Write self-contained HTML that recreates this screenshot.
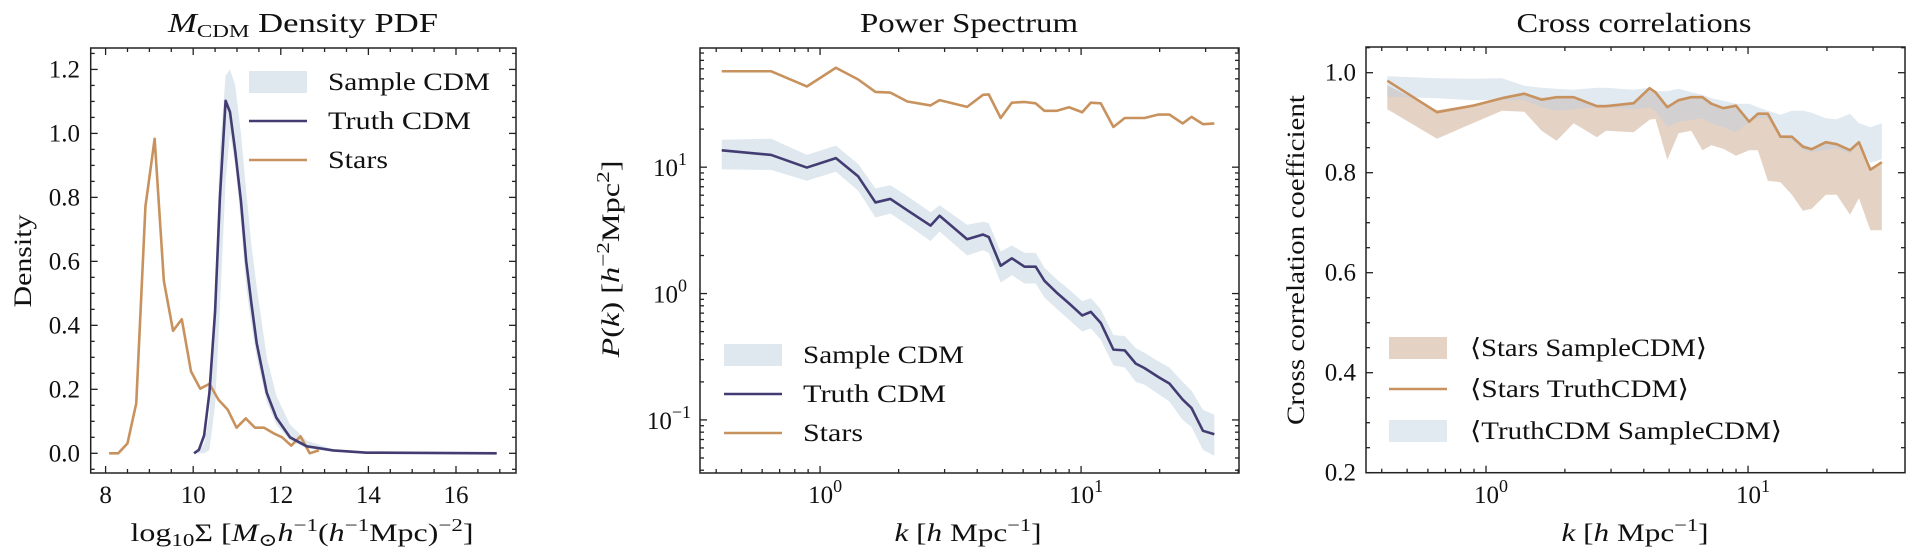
<!DOCTYPE html>
<html><head><meta charset="utf-8"><style>
html,body{margin:0;padding:0;background:#fff;}
svg{display:block;font-family:"Liberation Serif","DejaVu Serif",serif;}
</style></head><body>
<svg id="fig" width="1915" height="560" viewBox="0 0 1915 560" xmlns="http://www.w3.org/2000/svg"></svg>
<script>
// ---------- Panel 1 data: density PDF ----------
const starsPdfX = [8.08,8.29,8.50,8.70,8.91,9.12,9.33,9.54,9.74,9.95,10.16,10.37,10.58,10.79,10.99,11.20,11.41,11.62,11.83,12.03,12.24,12.45,12.66,12.87];
const starsPdfY = [0,0,0.031,0.156,0.772,0.983,0.539,0.383,0.419,0.256,0.202,0.217,0.167,0.136,0.080,0.109,0.080,0.080,0.063,0.050,0.024,0.053,0,0.009];
const truthPdfX = [10.02,10.13,10.25,10.37,10.50,10.61,10.74,10.84,10.96,11.09,11.21,11.33,11.45,11.68,11.90,12.21,12.59,13.20,13.96,16.93];
const truthPdfY = [0,0.011,0.056,0.189,0.444,0.80,1.102,1.067,0.944,0.789,0.60,0.467,0.344,0.189,0.111,0.05,0.022,0.009,0.002,0];
const samplePdfLo = [0,0,0,0.01,0.15,0.45,0.85,1.0,0.9,0.72,0.52,0.4,0.3,0.16,0.09,0.04,0.015,0.004,0.001,0];
const samplePdfHi = [0,0.01,0.03,0.12,0.5,0.95,1.18,1.20,1.15,1.0,0.82,0.65,0.52,0.3,0.18,0.09,0.04,0.012,0.003,0];
const pdfXTicks = [8,10,12,14,16];
const pdfYTicks = [0,0.2,0.4,0.6,0.8,1.0,1.2];
// ---------- Panel 2 data: power spectrum ----------
const kVals = [0.42,0.65,0.89,1.15,1.40,1.63,1.86,2.16,2.65,2.87,3.66,4.21,4.43,4.92,5.43,6.07,6.70,7.24,8.05,8.99,10.1,10.9,11.9,13.3,14.7,16.2,17.5,19.8,21.8,24.5,26.5,29.3,32.4];
const pkStars = [57.4,57.4,43.5,61.2,49.4,39.4,38.9,33.1,30.8,33.9,30.0,37.4,37.6,24.5,32.4,32.8,32.0,27.9,27.9,29.8,27.2,32.4,32.0,20.8,24.5,24.5,24.5,26.1,26.1,22.2,25.0,21.9,22.2];
const pkTruth = [13.6,12.5,9.93,11.8,8.45,5.26,5.61,4.56,3.45,4.13,2.69,2.93,2.80,1.66,1.90,1.63,1.63,1.26,1.02,0.836,0.671,0.716,0.585,0.36,0.355,0.279,0.257,0.218,0.194,0.145,0.124,0.082,0.077];
const pkSampleHi = [16.5,16.8,12.5,14.8,10.6,6.8,7.2,5.9,4.4,5.0,3.5,3.7,3.6,2.15,2.4,2.1,2.1,1.6,1.3,1.08,0.87,0.92,0.75,0.47,0.46,0.37,0.34,0.29,0.26,0.2,0.17,0.12,0.11];
const pkSampleLo = [9.6,9.5,7.8,9.2,6.5,4.0,4.3,3.5,2.6,3.1,2.0,2.2,2.1,1.22,1.4,1.2,1.2,0.93,0.76,0.62,0.5,0.53,0.43,0.27,0.26,0.2,0.19,0.16,0.14,0.1,0.088,0.058,0.052];
// ---------- Panel 3 data: cross correlations ----------
const ccStarsTruth = [0.984,0.921,0.934,0.949,0.958,0.946,0.951,0.951,0.933,0.933,0.939,0.969,0.961,0.931,0.945,0.951,0.951,0.938,0.929,0.934,0.902,0.918,0.918,0.872,0.872,0.852,0.847,0.861,0.857,0.845,0.861,0.806,0.821];
const ccStarsSampleHi = [0.975,0.925,0.936,0.951,0.96,0.95,0.952,0.952,0.936,0.936,0.94,0.965,0.96,0.935,0.945,0.95,0.95,0.94,0.932,0.935,0.905,0.918,0.918,0.875,0.874,0.856,0.85,0.862,0.858,0.848,0.86,0.81,0.82];
const ccStarsSampleLo = [0.927,0.868,0.899,0.924,0.922,0.884,0.864,0.899,0.871,0.884,0.881,0.906,0.908,0.826,0.879,0.884,0.845,0.855,0.848,0.834,0.845,0.845,0.784,0.781,0.756,0.724,0.728,0.756,0.756,0.716,0.749,0.685,0.685];
const ccTruthSampleHi = [0.993,0.989,0.988,0.989,0.974,0.97,0.968,0.966,0.97,0.97,0.966,0.97,0.963,0.963,0.968,0.961,0.956,0.949,0.944,0.938,0.938,0.931,0.924,0.916,0.924,0.924,0.92,0.909,0.907,0.918,0.899,0.891,0.899];
const ccTruthSampleLo = [0.952,0.949,0.945,0.946,0.945,0.931,0.924,0.927,0.931,0.931,0.927,0.931,0.924,0.891,0.902,0.906,0.909,0.899,0.891,0.881,0.902,0.909,0.909,0.87,0.866,0.845,0.841,0.845,0.849,0.838,0.859,0.82,0.827];
const ccYTicks = [0.2,0.4,0.6,0.8,1.0];

const NS = "http://www.w3.org/2000/svg";
const svg = document.getElementById('fig');
const NAVY = "#433c72", ORANGE = "#c8925e";
const FS = 25;
function el(tag, attrs, parent){
  const e = document.createElementNS(NS, tag);
  for (const k in attrs) e.setAttribute(k, attrs[k]);
  (parent||svg).appendChild(e);
  return e;
}
function mkScale(p){
  return {
    x: v => { const t = p.xlog ? Math.log10(v) : v; return p.L + (t - p.x0)/(p.x1 - p.x0)*(p.R - p.L); },
    y: v => { const t = p.ylog ? Math.log10(v) : v; return p.B - (t - p.y0)/(p.y1 - p.y0)*(p.B - p.T); }
  };
}
function linePts(S, xs, ys){ return xs.map((x,i)=>S.x(x).toFixed(2)+','+S.y(ys[i]).toFixed(2)).join(' '); }
function bandPts(S, xs, lo, hi){
  const a = xs.map((x,i)=>S.x(x).toFixed(2)+','+S.y(hi[i]).toFixed(2));
  const b = xs.map((x,i)=>S.x(x).toFixed(2)+','+S.y(lo[i]).toFixed(2)).reverse();
  return a.concat(b).join(' ');
}
function tick(g, x1,y1,x2,y2){ el('line',{x1:x1,y1:y1,x2:x2,y2:y2,stroke:'#222','stroke-width':1.3},g); }
function drawTicks(p, S, g){
  const maj=7, mn=4;
  let xt=[];
  if (p.xlog){
    for (let d=-2; d<3; d++) for (let m=1; m<10; m++){ const v=m*Math.pow(10,d); const t=Math.log10(v); if (t>=p.x0 && t<=p.x1) xt.push([v, m===1]); }
  } else {
    for (let v=Math.ceil(p.x0/p.xmin)*p.xmin; v<=p.x1+1e-9; v+=p.xmin) xt.push([v, Math.abs(v/p.xmaj - Math.round(v/p.xmaj))<1e-6]);
  }
  xt.forEach(([v,M])=>{ const x=S.x(v); const l=M?maj:mn; tick(g,x,p.B,x,p.B-l); tick(g,x,p.T,x,p.T+l); });
  let yt=[];
  if (p.ylog){
    for (let d=-3; d<3; d++) for (let m=1; m<10; m++){ const v=m*Math.pow(10,d); const t=Math.log10(v); if (t>=p.y0 && t<=p.y1) yt.push([v, m===1]); }
  } else {
    for (let v=Math.ceil(p.y0/p.ymin-1e-9)*p.ymin; v<=p.y1+1e-9; v+=p.ymin) yt.push([v, Math.abs(v/p.ymaj - Math.round(v/p.ymaj))<1e-6]);
  }
  yt.forEach(([v,M])=>{ const y=S.y(v); const l=M?maj:mn; tick(g,p.L,y,p.L+l,y); tick(g,p.R,y,p.R-l,y); });
}
function frame(p, g){ el('rect',{x:p.L,y:p.T,width:p.R-p.L,height:p.B-p.T,fill:'none',stroke:'#222','stroke-width':1.5},g); }
function txt(g, x, y, s, anchor, size, extra, tl){
  const a = Object.assign({x:x,y:y,'text-anchor':anchor||'middle','font-size':size||FS,fill:'#111'}, extra||{});
  if (tl){ a.textLength = tl; a.lengthAdjust = 'spacingAndGlyphs'; }
  const t = el('text', a, g);
  t.innerHTML = s; return t;
}
function pow10Label(g, x, y, e, anchor){
  return txt(g, x, y, '10<tspan dy="-11" font-size="18">'+e+'</tspan>', anchor);
}

// ===== Panel 1 =====
const p1 = {L:90.7,R:516,T:48,B:473,x0:7.66,x1:17.37,y0:-0.0616,y1:1.267,xmaj:2,xmin:0.5,ymaj:0.2,ymin:0.05};
const S1 = mkScale(p1);
const g1 = el('g',{});


const b1 = el('polygon',{points:bandPts(S1,truthPdfX,samplePdfLo,samplePdfHi),fill:'#dfe8ef',stroke:'none'},g1);


const l1a = el('polyline',{points:linePts(S1,starsPdfX,starsPdfY),fill:'none',stroke:ORANGE,'stroke-width':2.6,'stroke-linejoin':'round'},g1);


const l1b = el('polyline',{points:linePts(S1,truthPdfX,truthPdfY),fill:'none',stroke:NAVY,'stroke-width':2.6,'stroke-linejoin':'round'},g1);


drawTicks(p1,S1,g1); frame(p1,g1);
pdfXTicks.forEach(v=>{ const t=txt(g1,S1.x(v),503,String(v));   });
pdfYTicks.forEach(v=>{ const t=txt(g1,80,S1.y(v)+8,v.toFixed(1),'end');   });
let tt = txt(g1,303,32,'<tspan font-style="italic" font-size="27">M</tspan><tspan font-size="18" dy="5">CDM</tspan><tspan dy="-5" font-size="27"> Density PDF</tspan>','middle',27,{},270);
 
tt = txt(g1,302,541,'log<tspan font-size="18" dy="5">10</tspan><tspan dy="-5">Σ [<tspan font-style="italic">M</tspan></tspan><tspan font-size="18" dy="5">⊙</tspan><tspan dy="-5" font-style="italic">h</tspan><tspan dy="-10" font-size="18">−1</tspan><tspan dy="10">(<tspan font-style="italic">h</tspan></tspan><tspan dy="-10" font-size="18">−1</tspan><tspan dy="10">Mpc)</tspan><tspan dy="-10" font-size="18">−2</tspan><tspan dy="10">]</tspan>','middle',FS,{},343);
 
tt = txt(g1,0,0,'Density','middle',FS,{transform:'translate(31,261) rotate(-90)'},93);
 
let lg = el('g',{},g1);
 
el('rect',{x:249,y:71,width:58,height:22,fill:'#dfe8ef'},lg);
txt(lg,328,90,'Sample CDM','start',FS,{},162);
el('line',{x1:249,y1:121,x2:307,y2:121,stroke:NAVY,'stroke-width':2.6},lg);
txt(lg,328,129,'Truth CDM','start',FS,{},143);
el('line',{x1:249,y1:160,x2:307,y2:160,stroke:ORANGE,'stroke-width':2.6},lg);
txt(lg,328,168,'Stars','start',FS,{},60);

// ===== Panel 2 =====
const p2 = {L:700,R:1239,T:48,B:473,xlog:true,ylog:true,x0:-0.46,x1:1.605,y0:-1.42,y1:1.943};
const S2 = mkScale(p2);
const g2 = el('g',{});


const b2 = el('polygon',{points:bandPts(S2,kVals,pkSampleLo,pkSampleHi),fill:'#dfe8ef',stroke:'none'},g2);


const l2a = el('polyline',{points:linePts(S2,kVals,pkTruth),fill:'none',stroke:NAVY,'stroke-width':2.6,'stroke-linejoin':'round'},g2);


const l2b = el('polyline',{points:linePts(S2,kVals,pkStars),fill:'none',stroke:ORANGE,'stroke-width':2.6,'stroke-linejoin':'round'},g2);


drawTicks(p2,S2,g2); frame(p2,g2);
[0,1].forEach(e=>{ const t=pow10Label(g2,S2.x(Math.pow(10,e))+5,503,e);   });
[-1,0,1].forEach(e=>{ const t=pow10Label(g2,e<0?691:687,S2.y(Math.pow(10,e))+9,e<0?'−1':e,'end');   });
tt = txt(g2,969,32,'Power Spectrum','middle',27,{},218);
 
tt = txt(g2,968,541,'<tspan font-style="italic">k</tspan> [<tspan font-style="italic">h</tspan> Mpc<tspan dy="-10" font-size="18">−1</tspan><tspan dy="10">]</tspan>','middle',FS,{},147);
 
tt = txt(g2,0,0,'<tspan font-style="italic">P</tspan>(<tspan font-style="italic">k</tspan>) [<tspan font-style="italic">h</tspan><tspan dy="-10" font-size="18">−2</tspan><tspan dy="10">Mpc</tspan><tspan dy="-10" font-size="18">2</tspan><tspan dy="10">]</tspan>','middle',FS,{transform:'translate(619,259) rotate(-90)'},197);
 
lg = el('g',{},g2);
 
el('rect',{x:724,y:344,width:58,height:22,fill:'#dfe8ef'},lg);
txt(lg,803,363,'Sample CDM','start',FS,{},161);
el('line',{x1:724,y1:394,x2:782,y2:394,stroke:NAVY,'stroke-width':2.6},lg);
txt(lg,803,402,'Truth CDM','start',FS,{},143);
el('line',{x1:724,y1:433,x2:782,y2:433,stroke:ORANGE,'stroke-width':2.6},lg);
txt(lg,803,441,'Stars','start',FS,{},60);

// ===== Panel 3 =====
const p3 = {L:1366,R:1905,T:47,B:472.7,xlog:true,x0:-0.458,x1:1.599,y0:0.2,y1:1.0514,ymaj:0.2,ymin:0.05};
const S3 = mkScale(p3);
const g3 = el('g',{});


const b3a = el('polygon',{points:bandPts(S3,kVals,ccStarsSampleLo,ccStarsSampleHi),fill:'#c9a58a','fill-opacity':0.5,stroke:'none'},g3);


const b3b = el('polygon',{points:bandPts(S3,kVals,ccTruthSampleLo,ccTruthSampleHi),fill:'#bccfdf','fill-opacity':0.45,stroke:'none'},g3);


const l3 = el('polyline',{points:linePts(S3,kVals,ccStarsTruth),fill:'none',stroke:ORANGE,'stroke-width':2.6,'stroke-linejoin':'round'},g3);


drawTicks(p3,S3,g3); frame(p3,g3);
[0,1].forEach(e=>{ const t=pow10Label(g3,S3.x(Math.pow(10,e))+5,503,e);   });
ccYTicks.forEach(v=>{ const t=txt(g3,1356,S3.y(v)+8,v.toFixed(1),'end');   });
tt = txt(g3,1634,32,'Cross correlations','middle',27,{},235);
 
tt = txt(g3,1635,541,'<tspan font-style="italic">k</tspan> [<tspan font-style="italic">h</tspan> Mpc<tspan dy="-10" font-size="18">−1</tspan><tspan dy="10">]</tspan>','middle',FS,{},147);
 
tt = txt(g3,0,0,'Cross correlation coefficient','middle',FS,{transform:'translate(1304,260) rotate(-90)'},330);
 
lg = el('g',{},g3);
 
el('rect',{x:1389,y:337,width:58,height:22,fill:'#c9a58a','fill-opacity':0.5},lg);
txt(lg,1470,356,'⟨Stars SampleCDM⟩','start',FS,{},237);
el('line',{x1:1389,y1:389,x2:1447,y2:389,stroke:ORANGE,'stroke-width':2.6},lg);
txt(lg,1470,397,'⟨Stars TruthCDM⟩','start',FS,{},219);
el('rect',{x:1389,y:420,width:58,height:22,fill:'#bccfdf','fill-opacity':0.45},lg);
txt(lg,1470,439,'⟨TruthCDM SampleCDM⟩','start',FS,{},312);
</script>
</body></html>
